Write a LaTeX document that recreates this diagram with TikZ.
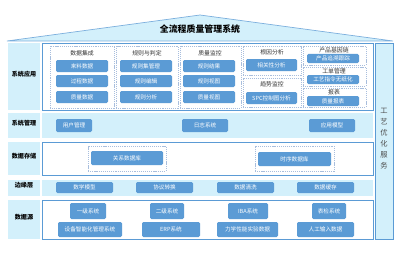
\documentclass[tikz,border=0pt]{standalone}
\usepackage{fontspec}
\setmainfont{Noto Sans CJK SC}
\usetikzlibrary{positioning,fit}
\definecolor{LayerCyan}{HTML}{D3F0FB}
\definecolor{BtnBlue}{HTML}{5B9BD5}
\definecolor{EdgeBlue}{HTML}{5B9BD5}
\definecolor{GroupGray}{HTML}{A8BEDD}
\newcommand\px{0.03cm}

\begin{document}
\begin{tikzpicture}[x=0.03cm,y=-0.03cm]
\tikzstyle{layer}=[fill=LayerCyan,inner sep=0,font=\fontsize{5.2}{6}\selectfont\bfseries]
\tikzstyle{panel}=[draw=EdgeBlue,line width=.8pt,fill=white,inner sep=0]
\tikzstyle{band}=[fill=LayerCyan,inner sep=0]
\tikzstyle{group}=[draw=GroupGray,dash pattern=on 1pt off .8pt,line width=.5pt,inner sep=0]
\tikzstyle{btn}=[fill=BtnBlue,rounded corners=1.2pt,text=white,inner sep=0,font=\fontsize{4.8}{5}\selectfont]
\tikzstyle{appbtn}=[btn,minimum width=52*\px,minimum height=12*\px]
\tikzstyle{smallbtn}=[btn,minimum width=52*\px,minimum height=10*\px]
\tikzstyle{gtitle}=[text=black!80,font=\fontsize{5}{6}\selectfont]
\useasboundingbox (0,0) rectangle (400,254);
% roof and title
\draw[fill=LayerCyan,draw=EdgeBlue!80,line width=.6pt] (7,41) -- (200,15) -- (393,41) -- cycle;
\node[font=\fontsize{7.6}{9}\selectfont\bfseries] (title) at (200,29) {全流程质量管理系统};
% layer labels
\node[layer,fit={(8,43) (40,110)}] (lApp) {系统应用};
\node[layer,fit={(8,113) (40,138)}] (lMgmt) {系统管理};
\node[layer,fit={(8,142) (40,175)}] (lStore) {数据存储};
\node[layer,fit={(8,180) (40,196)}] (lEdge) {边缘层};
\node[layer,fit={(8,200) (40,239)}] (lSrc) {数据源};
% layer contents
\node[panel,fit={(42,43) (373,110)}] (pApp) {};
\node[band,fit={(42,113) (373,138)}] (pMgmt) {};
\node[panel,fit={(42,142) (373,175)}] (pStore) {};
\node[band,fit={(42,180) (373,196)}] (pEdge) {};
\node[panel,fit={(42,200) (373,239)}] (pSrc) {};
\node[layer,draw=EdgeBlue,line width=.8pt,align=center,text=black!70,
  font=\fontsize{6.2}{9.4}\selectfont,fit={(375,43) (393,239)}] (svc) {工\\艺\\优\\化\\服\\务};
% application groups
\node[group,fit={(50,46) (114,108)}] (gInteg) {};
\node[group,fit={(116,46) (178,108)}] (gRule) {};
\node[group,fit={(180,46) (241,108)}] (gMon) {};
\node[group,fit={(243,46) (301,75)}] (gRoot) {};
\node[group,fit={(243,78) (301,107)}] (gTrend) {};
\node[group,fit={(303,46) (366,65)}] (gGene) {};
\node[group,fit={(303,67) (366,86)}] (gOrder) {};
\node[group,fit={(303,88) (366,107)}] (gReport) {};
\node[gtitle] (tInteg) at (82,53) {数据集成};
\node[gtitle] (tRule) at (147,53) {规则与判定};
\node[gtitle] (tMon) at (210,53) {质量监控};
\node[gtitle] (tRoot) at (272,52) {根因分析};
\node[gtitle] (tTrend) at (272,84) {趋势监控};
\node[gtitle] (tGene) at (334,50) {产品基因链};
\node[gtitle] (tOrder) at (334,71) {工单管理};
\node[gtitle] (tReport) at (334,92) {报表};
\node[appbtn] (rawData) at (82,66) {来料数据};
\node[appbtn] (procData) at (82,81) {过程数据};
\node[appbtn] (qualData) at (82,97) {质量数据};
\node[appbtn] (ruleSet) at (146,66) {规则集管理};
\node[appbtn] (ruleEdit) at (146,81) {规则编辑};
\node[appbtn] (ruleAna) at (146,97) {规则分析};
\node[appbtn] (ruleRes) at (209,66) {规则结果};
\node[appbtn] (ruleView) at (209,81) {规则视图};
\node[appbtn] (qualView) at (209,97) {质量视图};
\node[appbtn,minimum width=51*\px] (corr) at (271.5,65) {相关性分析};
\node[appbtn,minimum width=51*\px] (spc) at (271.5,98) {SPC控制图分析};
\node[smallbtn,minimum height=9*\px] (trace) at (333,58.5) {产品追溯跟踪};
\node[smallbtn,minimum height=9*\px] (paperless) at (333,79.5) {工艺指令无纸化};
\node[smallbtn] (qualRep) at (333,101) {质量报表};
% system management
\node[btn,minimum width=36*\px,minimum height=13*\px] (user) at (74,125.5) {用户管理};
\node[btn,minimum width=46*\px,minimum height=13*\px] (log) at (205,125.5) {日志系统};
\node[btn,minimum width=46*\px,minimum height=13*\px] (model) at (332,125.5) {应用模型};
% data storage
\node[group,fit={(88,146) (166,171)}] (gRel) {};
\node[group,fit={(255,146) (334,171)}] (gTs) {};
\node[btn,minimum width=72*\px,minimum height=14*\px] (relDb) at (127,158) {关系数据库};
\node[btn,minimum width=73*\px,minimum height=14*\px] (tsDb) at (294.5,159) {时序数据库};
% edge layer
\node[btn,minimum width=57*\px,minimum height=11*\px] (math) at (84.5,187.5) {数学模型};
\node[btn,minimum width=57*\px,minimum height=11*\px] (proto) at (164.5,187.5) {协议转换};
\node[btn,minimum width=57*\px,minimum height=11*\px] (clean) at (245.5,187.5) {数据清洗};
\node[btn,minimum width=57*\px,minimum height=11*\px] (cache) at (325.5,187.5) {数据缓存};
% data sources
\node[btn,minimum width=36*\px,minimum height=16*\px] (lvOne) at (88,211) {一级系统};
\node[btn,minimum width=34*\px,minimum height=16*\px] (lvTwo) at (167,211) {二级系统};
\node[btn,minimum width=40*\px,minimum height=16*\px] (iba) at (248,211) {IBA系统};
\node[btn,minimum width=34*\px,minimum height=16*\px] (surf) at (329,211) {表检系统};
\node[btn,minimum width=64*\px,minimum height=15*\px] (equip) at (90,229.5) {设备智能化管理系统};
\node[btn,minimum width=58*\px,minimum height=15*\px] (erp) at (171,229.5) {ERP系统};
\node[btn,minimum width=61*\px,minimum height=15*\px] (mech) at (247.5,229.5) {力学性能实验数据};
\node[btn,minimum width=57*\px,minimum height=15*\px] (manual) at (325.5,229.5) {人工输入数据};
\end{tikzpicture}
\end{document}
